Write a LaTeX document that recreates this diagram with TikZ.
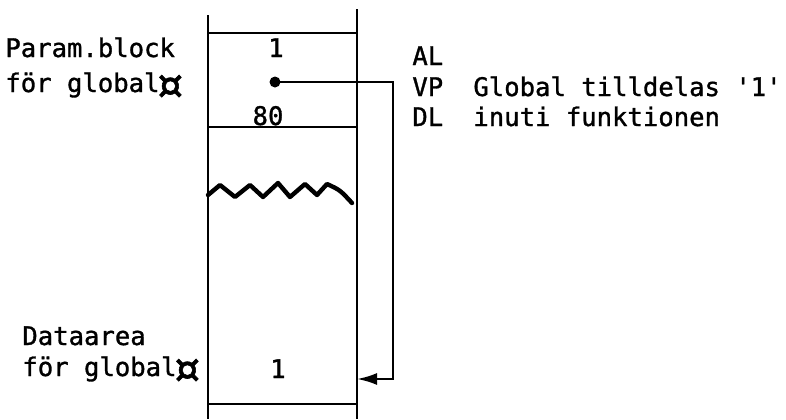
\documentclass[tikz,border=0pt]{standalone}
\usepackage{fontspec}
\usepackage{graphicx}
\newfontfamily\tfont[FakeBold=1.2]{DejaVu Sans Mono}
\newfontfamily\cfont[FakeBold=1.2]{DejaVu Sans Mono}
\newcommand{\cursign}{\kern-2.5pt\raisebox{-5pt}{\resizebox{15pt}{13.5pt}{\cfont ¤}}}
\usetikzlibrary{arrows.meta}
\begin{document}
\begin{tikzpicture}[x=0.5pt,y=-0.5pt,
  txt/.style={font=\tfont\fontsize{12.8pt}{15pt}\selectfont,anchor=base west,inner sep=0pt},
  ctxt/.style={font=\tfont\fontsize{12.8pt}{15pt}\selectfont,anchor=base,inner sep=0pt},
  wall/.style={line width=1.4pt},
  sep/.style={line width=1.1pt},
  conn/.style={line width=1.2pt},
  zig/.style={line width=2.2pt,line join=round,line cap=round},
  dotnode/.style={circle,fill=black,inner sep=0pt,minimum size=5.5pt}]
\useasboundingbox (0,0) rectangle (786,419);
% walls
\draw[wall] (208,15) -- (208,419);
\draw[wall] (357,9) -- (357,419);
% separators
\draw[sep] (208,33) -- (357,33);
\draw[sep] (208,127) -- (357,127);
\draw[sep] (208,404) -- (357,404);
% zigzag
\draw[zig] (208,195) -- (220,185) -- (235,197) -- (250,185) -- (263,197) -- (278,183) -- (290,197) -- (305,184) -- (317,195) -- (327,184) .. controls (340,190) .. (352,203);
% texts left
\node[txt] (pb1) at (5,57) {Param.block};
\node[txt] (pb2) at (5,92) {för global\cursign};
\node[txt] (da1) at (22,345) {Dataarea};
\node[txt] (da2) at (22,376) {för global\cursign};
% cell contents
\node[ctxt] (one) at (276,57) {1};
\node[dotnode] (vp) at (275,82) {};
\node[ctxt] (eighty) at (268,125) {80};
\node[ctxt] (onebot) at (278,378) {1};
% right labels
\node[txt] (al) at (412,65) {AL};
\node[txt] (vpl) at (412,96) {VP};
\node[txt] (dl) at (412,126) {DL};
\node[txt] (g1) at (473,96) {Global tilldelas '1'};
\node[txt] (g2) at (473,126) {inuti funktionen};
% connector
\coordinate (bend) at (393,82);
\coordinate (tgt) at (357,379);
\draw[conn,-{Latex[length=10pt,width=6pt]}] (vp.center) -- (bend) |- (tgt);
\end{tikzpicture}
\end{document}
